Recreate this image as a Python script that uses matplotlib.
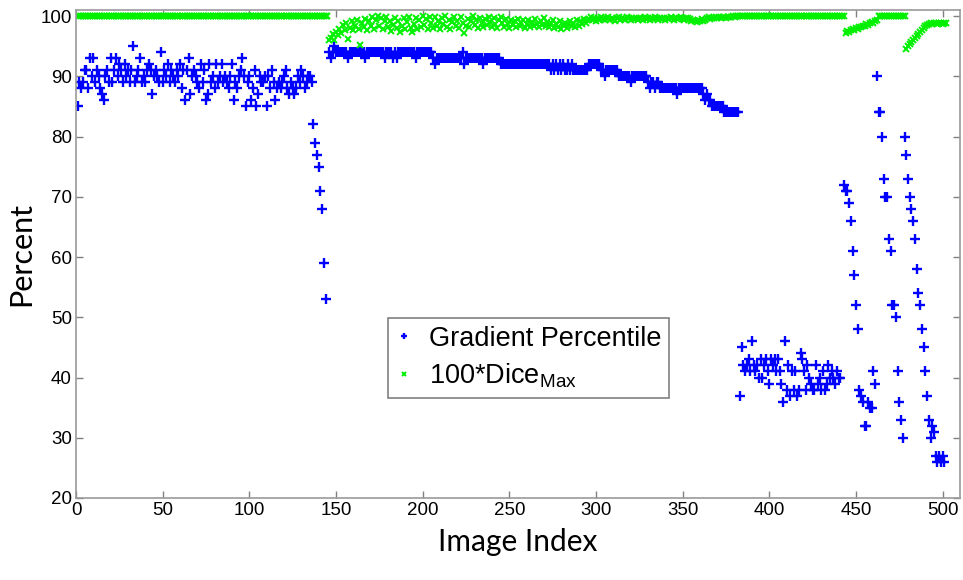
import numpy as np
import matplotlib
matplotlib.use("Agg")
import matplotlib.pyplot as plt

# ---------------- data ----------------
# Gradient Percentile (blue +), segments with start image index
blue_a_start = 1
blue_a = [85, 89, 88, 89, 91, 91, 88, 93, 90, 93, 89, 91, 90, 88, 87, 86, 90, 91, 89, 93,
          89, 91, 93, 90, 92, 91, 89, 92, 90, 91, 89, 91, 95, 89, 90, 91, 93, 89, 90, 89,
          91, 92, 91, 87, 90, 91, 90, 89, 94, 89, 91, 90, 92, 89, 91, 90, 89, 91, 90, 92,
          88, 91, 86, 91, 93, 87, 90, 91, 90, 89, 88, 92, 89, 91, 86, 87, 92, 89, 90, 88,
          92, 89, 90, 92, 89, 90, 89, 88, 90, 92, 86, 89, 88, 90, 91, 93, 90, 85, 89, 90,
          86, 88, 91, 85, 87, 90, 89, 89, 90, 85, 90, 88, 91, 89, 86, 88, 89, 88, 89, 90,
          91, 88, 87, 89, 88, 87, 88, 90, 89, 91, 90, 88, 89, 90, 90, 89, 82, 79, 77, 75,
          71, 68, 59, 53]
blue_b_start = 146
blue_b = [94, 93, 94, 95,
          94, 94, 94, 94, 94, 94, 94, 93,
          94, 94, 94, 94, 94, 94, 94, 94, 94, 93,
          94, 94, 94, 94, 94, 94, 94, 94, 94, 94, 93,
          94, 94, 94, 94, 93, 94, 93,
          94, 94, 94, 94, 94, 94, 94, 94, 94, 94, 93,
          94, 94, 94, 94, 94, 94, 94, 94, 94, 93, 92,
          93, 93, 93, 93, 93, 93, 93, 93, 93, 93, 93, 93, 93, 93, 93, 94, 92,
          93, 93, 93, 93, 93, 93, 93, 93, 93, 93, 92,
          93, 93, 93, 93, 93, 93, 93, 93, 93, 92,
          92, 92, 92, 92, 92, 92, 92, 92, 92, 92, 92, 92, 92, 92,
          92, 92, 92, 92, 92, 92, 92, 92, 92, 92, 92, 92, 92, 92,
          91, 92, 91, 92, 91, 92, 91, 92, 91, 91, 92, 91, 92, 91,
          91, 91, 91, 91, 91, 91, 91, 91,
          92, 92, 92, 92, 92, 92, 92, 91, 91, 90,
          91, 91, 91, 91, 91, 91, 91,
          90, 90, 90, 90, 90, 90, 90, 89,
          90, 90, 90, 90, 90, 90, 90, 90, 90,
          89, 88, 89, 89, 88, 89, 89,
          88, 88, 88, 88, 88, 88, 88, 88, 88, 88, 87,
          88, 88, 88, 88, 88, 88, 88, 88, 88, 88, 88, 88, 88, 88,
          87, 86, 87, 86, 86,
          85, 85, 85, 85, 85, 85, 85,
          84, 84, 84, 84, 84, 84, 84, 84, 84]
blue_c_start = 383
blue_c = [37, 45, 42, 41, 42, 43, 41, 46, 42, 41, 42, 40, 43, 40, 42, 43, 41, 39, 43, 42,
          43, 41, 43, 41, 39, 36, 46, 38, 42, 37, 41, 38, 41, 37, 38, 44, 43, 41, 38, 42,
          40, 39, 38, 38, 42, 39, 40, 38, 41, 38, 39, 42, 40, 41, 40, 39, 41, 40, 40]
blue_d_start = 443
blue_d = [72, 71, 71, 69, 66, 61, 57, 52, 48, 38, 37, 36, 32, 32, 36, 35, 35, 41, 39, 90,
          84, 84, 80, 73, 70, 70, 63, 61, 52, 52, 50, 41, 36, 33, 30, 80, 77, 73, 70, 68,
          66, 63, 58, 54, 52, 48, 45, 41, 37, 33, 30, 32, 31, 27, 26, 27, 26, 27, 26]

# 100*Dice_Max (green x), segments with start image index
green_a_start = 1
green_a = [100, 100, 100, 100, 100, 100, 100, 100, 100, 100, 100, 100, 100, 100, 100,
           100, 100, 100, 100, 100, 100, 100, 100, 100, 100, 100, 100, 100, 100, 100,
           100, 100, 100, 100, 100, 100, 100, 100, 100, 100, 100, 100, 100, 100, 100,
           100, 100, 100, 100, 100, 100, 100, 100, 100, 100, 100, 100, 100, 100, 100,
           100, 100, 100, 100, 100, 100, 100, 100, 100, 100, 100, 100, 100, 100, 100,
           100, 100, 100, 100, 100, 100, 100, 100, 100, 100, 100, 100, 100, 100, 100,
           100, 100, 100, 100, 100, 100, 100, 100, 100, 100, 100, 100, 100, 100, 100,
           100, 100, 100, 100, 100, 100, 100, 100, 100, 100, 100, 100, 100, 100, 100,
           100, 100, 100, 100, 100, 100, 100, 100, 100, 100, 100, 100, 100, 100, 100,
           100, 100, 100, 100, 100, 100, 100, 100, 100, 100]
green_b_start = 146
green_b = [96.0, 96.3, 97.0, 96.0, 97.4, 96.8, 97.8, 97.1, 98.5, 97.6,
           98.9, 96.2, 98.0, 99.2, 97.6, 98.4, 99.4, 97.9, 95.2, 98.8,
           98.1, 99.5, 97.7, 99.1, 98.3, 99.8, 97.9, 99.3, 100.0, 98.4,
           99.6, 97.8, 99.2, 99.9, 98.1, 99.1, 97.5, 98.5, 99.7, 98.0,
           99.2, 97.4, 98.4, 99.6, 97.8, 99.0, 99.9, 98.0, 97.3, 98.7,
           99.7, 97.8, 99.3, 98.2, 100.0, 98.5, 99.5, 97.9, 99.8, 98.8,
           98.0, 99.9, 98.4, 99.2, 97.9, 99.6, 98.6, 100.0, 98.1, 99.3,
           97.8, 99.0, 99.8, 98.3, 99.2, 98.0, 99.9, 98.8, 97.2, 98.4,
           99.5, 98.1, 99.1, 100.0, 98.5, 99.3, 98.0, 99.7, 98.8, 98.2,
           99.5, 98.5, 99.9, 99.0, 98.1, 99.6, 98.7, 98.0, 99.3, 99.9,
           98.9, 98.2, 99.5, 98.6, 98.0, 99.3, 98.5, 99.1, 98.2, 99.5,
           98.3, 98.8, 99.4, 98.0, 98.6, 99.3, 98.2, 99.0, 98.4, 99.5,
           98.7, 98.1, 99.2, 98.5, 99.6, 98.3, 99.0, 98.2, 98.8, 99.4,
           98.0, 98.6, 98.2, 99.1, 97.9, 98.5, 98.9, 98.0, 98.6, 99.2,
           98.3, 98.9, 98.1, 99.3, 98.4, 99.1, 98.6, 99.5, 98.8, 99.3,
           99.5, 99.8, 99.3, 99.6, 99.2, 99.7, 99.4, 99.9, 99.5, 99.3,
           99.6, 99.8, 99.4, 99.7, 99.5, 99.2, 99.6, 99.9, 99.4, 99.7,
           99.5, 99.3, 99.8, 99.6, 99.4, 99.7, 99.5, 99.6, 99.3, 99.7,
           99.6, 99.4, 99.8, 99.5, 99.7, 99.4, 99.6, 99.5, 99.8, 99.6,
           99.4, 99.7, 99.5, 99.6, 99.3, 99.7, 99.5, 99.8, 99.6, 99.4,
           99.7, 99.5, 99.6, 99.8, 99.5, 99.4, 99.7, 99.6, 99.5, 99.2,
           99.4, 99.1, 99.0, 99.3, 99.2, 99.5, 99.1, 99.4, 99.6, 99.8,
           99.5, 99.7, 99.6, 99.8, 99.7, 99.9, 99.6, 99.8, 99.9, 99.7,
           99.8, 99.9, 99.8, 100.0, 99.9]
green_c_start = 381
green_c = [100, 100, 100, 100, 100, 100, 100, 100, 100, 100, 100, 100, 100, 100, 100,
           100, 100, 100, 100, 100, 100, 100, 100, 100, 100, 100, 100, 100, 100, 100,
           100, 100, 100, 100, 100, 100, 100, 100, 100, 100, 100, 100, 100, 100, 100,
           100, 100, 100, 100, 100, 100, 100, 100, 100, 100, 100, 100, 100, 100, 100,
           100, 100, 100]
green_d_start = 444
green_d = [97.2, 97.5, 97.3, 97.6, 97.8, 97.6, 98.0, 97.9, 98.2, 98.1,
           98.4, 98.3, 98.6, 98.5, 98.8, 99.0, 98.9, 99.2, 99.4]
green_e_start = 463
green_e = [100, 100, 100, 100, 100, 100, 100, 100, 100, 100, 100, 100, 100, 100, 100, 100]
green_f_start = 479
green_f = [94.6, 95.0, 95.3, 95.7, 96.0, 96.4, 96.7, 97.0, 97.4, 97.7, 98.0, 98.3, 98.5, 98.7,
           98.8, 98.7, 98.9, 98.8, 98.7, 98.8, 98.9, 98.7, 98.8, 98.8]

x_ticks = [0, 50, 100, 150, 200, 250, 300, 350, 400, 450, 500]
y_ticks = [20, 30, 40, 50, 60, 70, 80, 90, 100]
series_labels = ["Gradient Percentile", r"100*Dice$_{\mathregular{Max}}$"]


def assemble(parts):
    xs, ys = [], []
    for start, vals in parts:
        xs.extend(range(start, start + len(vals)))
        ys.extend(vals)
    return np.array(xs), np.array(ys, dtype=float)


bx, by = assemble([(blue_a_start, blue_a), (blue_b_start, blue_b),
                   (blue_c_start, blue_c), (blue_d_start, blue_d)])
gx, gy = assemble([(green_a_start, green_a), (green_b_start, green_b),
                   (green_c_start, green_c), (green_d_start, green_d),
                   (green_e_start, green_e), (green_f_start, green_f)])

# ---------------- figure ----------------
W, H = 963, 580
fig = plt.figure(figsize=(W / 100, H / 100), dpi=100)
ax = fig.add_axes([76 / W, 1 - 498 / H, (960 - 76) / W, (498 - 10) / H])

ax.plot(bx, by, linestyle="none", marker="+", color="#0000ff",
        markersize=7, markeredgewidth=1.7, label=series_labels[0])
ax.plot(gx, gy, linestyle="none", marker="x", color="#00f000",
        markersize=4.8, markeredgewidth=1.4, label=series_labels[1])

ax.set_xlim(0, 510)
ax.set_ylim(20, 101)
ax.set_xticks(x_ticks)
ax.set_yticks(y_ticks)

tick_font = ["Liberation Sans Narrow", "Liberation Sans", "DejaVu Sans"]
for lab in ax.get_xticklabels() + ax.get_yticklabels():
    lab.set_family(tick_font)
    lab.set_fontsize(13.5)
    lab.set_color("black")

ax.tick_params(direction="in", top=True, right=True, length=5, width=1,
               color="#808080", pad=3)
for sp in ax.spines.values():
    sp.set_color("#9a9a9a")
    sp.set_linewidth(1.2)

label_font = ["Lato", "DejaVu Sans"]
ax.set_xlabel("Image Index", family=label_font, fontsize=21.5, labelpad=6)
ax.set_ylabel("Percent", family=label_font, fontsize=22, labelpad=4)

leg = ax.legend(loc="lower left", bbox_to_anchor=(0.353, 0.205),
                prop={"family": ["Liberation Sans", "DejaVu Sans"], "size": 19.5},
                markerscale=0.55, handlelength=0.6, handletextpad=0.6,
                borderpad=0.3, labelspacing=0.35, fancybox=False,
                framealpha=1, edgecolor="#808080", borderaxespad=0)
leg.get_frame().set_linewidth(1.2)

fig.savefig("out.png", dpi=100)
